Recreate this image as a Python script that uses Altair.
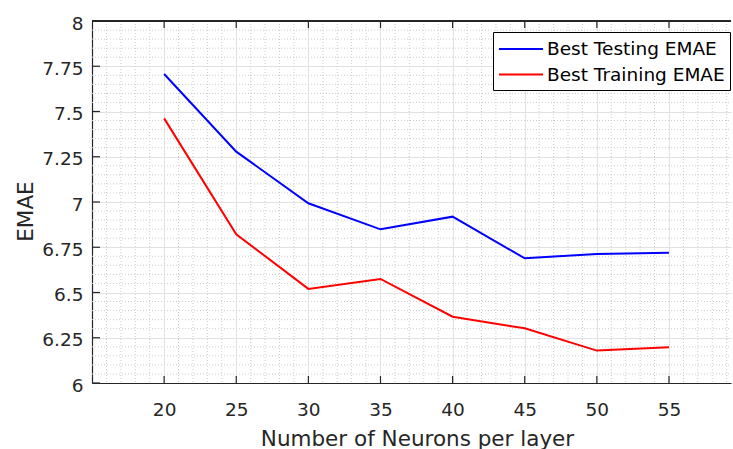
import altair as alt
import pandas as pd

# ---- data ----
neurons = [20, 25, 30, 35, 40, 45, 50, 55]
testing = [7.707, 7.278, 6.993, 6.849, 6.919, 6.689, 6.713, 6.720]
training = [7.462, 6.822, 6.520, 6.575, 6.366, 6.302, 6.179, 6.197]
series_names = ["Best Testing EMAE", "Best Training EMAE"]
series_colors = ["#0000ff", "#ff0000"]

x_major = [20, 25, 30, 35, 40, 45, 50, 55]
y_major = [6.0, 6.25, 6.5, 6.75, 7.0, 7.25, 7.5, 7.75, 8.0]
x_minor = [v for v in range(16, 60) if v % 5 != 0]
y_minor = [round(6 + 0.05 * i, 2) for i in range(41) if i % 5 != 0]

W, H = 639, 362
FONT = "DejaVu Sans"
AX = "#262626"

df = pd.DataFrame({
    "n": neurons * 2,
    "v": testing + training,
    "s": [series_names[0]] * len(neurons) + [series_names[1]] * len(neurons),
})
xmaj = pd.DataFrame({"n": x_major})
ymaj = pd.DataFrame({"v": y_major})
xmin = pd.DataFrame({"n": x_minor})
ymin = pd.DataFrame({"v": y_minor})

xs = alt.Scale(domain=[15, 59.3], nice=False, zero=False)
ys = alt.Scale(domain=[6, 8], nice=False, zero=False)

xaxis = alt.Axis(
    values=x_major, title="Number of Neurons per layer",
    titleX=325, titleY=62, titleBaseline="alphabetic", titleAlign="center",
    labelPadding=17)
yaxis = alt.Axis(
    values=y_major, labelExpr="toString(datum.value)", title="EMAE",
    titleAngle=270, titleX=-60, titleY=190, titleBaseline="alphabetic", titleAlign="center",
    labelPadding=9, labelOffset=2)

X = alt.X("n:Q", scale=xs, axis=xaxis, title="Number of Neurons per layer")
Y = alt.Y("v:Q", scale=ys, axis=yaxis, title="EMAE")

minor_x = alt.Chart(xmin).mark_rule(color="#cdcdcd", strokeWidth=1, strokeDash=[1, 2]).encode(
    x=X, y=alt.value(0), y2=alt.value(H))
minor_y = alt.Chart(ymin).mark_rule(color="#cdcdcd", strokeWidth=1, strokeDash=[1, 2]).encode(
    y=Y, x=alt.value(0), x2=alt.value(W))

lines = alt.Chart(df).mark_line(strokeWidth=2, clip=False).encode(
    x=X,
    y=Y,
    color=alt.Color("s:N", scale=alt.Scale(domain=series_names, range=series_colors),
                    legend=alt.Legend(
                        orient="none", legendX=401, legendY=11, title=None,
                        symbolType="M-1,0H3", symbolStrokeWidth=2, symbolSize=484,
                        labelOffset=25, padding=5, rowPadding=3.6)),
    detail="s:N",
)

xticks_bottom = alt.Chart(xmaj).mark_rule(color=AX, strokeWidth=1.2).encode(
    x=X, y=alt.value(H), y2=alt.value(H - 7))
xticks_top = alt.Chart(xmaj).mark_rule(color=AX, strokeWidth=1.2).encode(
    x=X, y=alt.value(0), y2=alt.value(7))
yticks = alt.Chart(ymaj).mark_rule(color=AX, strokeWidth=1.2).encode(
    y=Y, x=alt.value(0), x2=alt.value(8))
top_border = alt.Chart(xmaj).mark_rule(color=AX, strokeWidth=1.2).encode(
    x=alt.value(0), x2=alt.value(W), y=alt.value(0))

chart = alt.layer(minor_x, minor_y, lines, xticks_bottom, xticks_top, yticks, top_border).properties(
    width=W, height=H,
    autosize=alt.AutoSizeParams(type="none"),
    padding={"left": 92, "top": 21, "right": 2, "bottom": 66},
    background="white",
).configure_view(
    stroke=None
).configure_axis(
    titleFont=FONT, titleFontSize=21.5, titleFontWeight="normal", titleColor=AX,
    labelFont=FONT, labelFontSize=18.5, labelColor=AX, labelFlush=False,
    ticks=False, domainColor=AX, domainWidth=1.2,
    grid=True, gridColor="#e1e1e1", gridWidth=1,
).configure_legend(
    labelFont=FONT, labelFontSize=18.5, labelColor="black", labelLimit=400,
    strokeColor="#000000", fillColor="white",
)

chart.save("out.html", embed_options={"renderer": "svg", "actions": False})
